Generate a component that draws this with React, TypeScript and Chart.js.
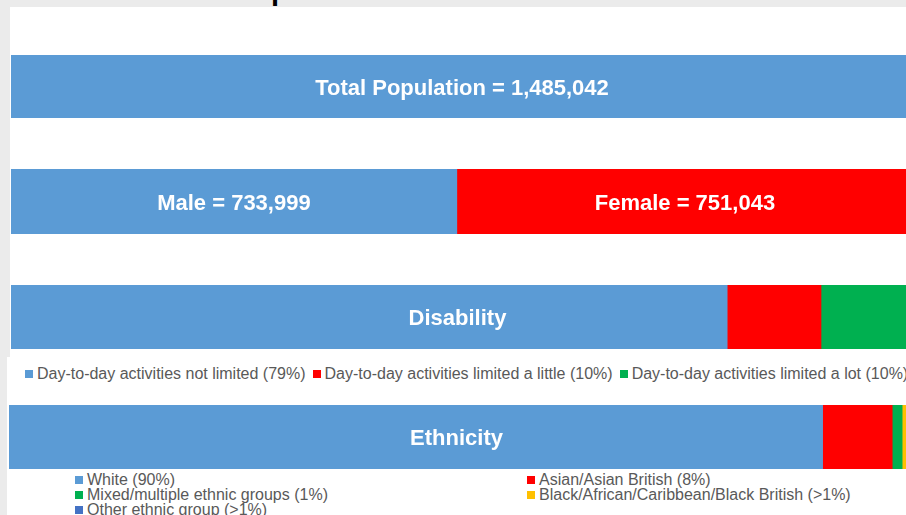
import React, { useEffect, useRef } from "react";
import { Chart, registerables } from "chart.js";

Chart.register(...registerables);

// ---------- data ----------
const pageTitle = "Overview of the Population";

const totalCategories = ["Total Population"];
const totalValues = [1485042];

const sexCategories = ["Male", "Female"];
const sexValues = [733999, 751043];

const disabilityTitle = "Disability";
const disabilityCategories = [
  "Day-to-day activities not limited (79%)",
  "Day-to-day activities limited a little (10%)",
  "Day-to-day activities limited a lot (10%)",
];
const disabilityValues = [79.4, 10.4, 10.2];

const ethnicityTitle = "Ethnicity";
const ethnicityCategories = [
  "White (90%)",
  "Asian/Asian British (8%)",
  "Mixed/multiple ethnic groups (1%)",
  "Black/African/Caribbean/Black British (>1%)",
  "Other ethnic group (>1%)",
];
const ethnicityValues = [90.0, 7.7, 1.1, 0.6, 0.6];

// ---------- styles ----------
const BLUE = "#5b9bd5";
const RED = "#ff0000";
const GREEN = "#00b050";
const YELLOW = "#ffc000";
const DARKBLUE = "#4472c4";

const FONT = 'Arial, "Liberation Sans", sans-serif';
const fmt = (n: number) => n.toLocaleString("en-GB");

const labelPlugin = {
  id: "barLabels",
  afterDatasetsDraw(chart: any, _args: any, opts: any) {
    const ctx = chart.ctx;
    ctx.save();
    ctx.fillStyle = "#ffffff";
    ctx.font = `bold 22px ${FONT}`;
    ctx.textAlign = "center";
    ctx.textBaseline = "middle";
    const dx = (opts && opts.dx) || 0;
    if (opts && opts.segments) {
      chart.data.datasets.forEach((_ds: any, i: number) => {
        const el: any = chart.getDatasetMeta(i).data[0];
        if (!el) return;
        const cx = (el.base + el.x) / 2;
        ctx.fillText(opts.segments[i], cx + dx, el.y + 2);
      });
    } else if (opts && opts.text) {
      const a = chart.chartArea;
      ctx.fillText(opts.text, (a.left + a.right) / 2 + dx, (a.top + a.bottom) / 2 + 2);
    }
    ctx.restore();
  },
};

type BarProps = {
  names: string[];
  values: number[];
  colors: string[];
  width: number;
  height: number;
  text?: string;
  segments?: string[];
  dx?: number;
};

function StackedBar({ names, values, colors, width, height, text, segments, dx }: BarProps) {
  const ref = useRef<HTMLCanvasElement | null>(null);
  useEffect(() => {
    if (!ref.current) return;
    const total = values.reduce((a, b) => a + b, 0);
    const chart = new Chart(ref.current, {
      type: "bar",
      data: {
        labels: [""],
        datasets: names.map((n, i) => ({
          label: n,
          data: [values[i]],
          backgroundColor: colors[i],
          borderWidth: 0,
          barPercentage: 1,
          categoryPercentage: 1,
        })),
      },
      options: {
        indexAxis: "y",
        responsive: false,
        animation: false,
        events: [],
        layout: { padding: 0 },
        scales: {
          x: { stacked: true, display: false, min: 0, max: total },
          y: { stacked: true, display: false },
        },
        plugins: {
          legend: { display: false },
          tooltip: { enabled: false },
          barLabels: { text, segments, dx },
        } as any,
      },
      plugins: [labelPlugin as any],
    });
    return () => chart.destroy();
  }, []);
  return <canvas ref={ref} width={width} height={height} style={{ display: "block" }} />;
}

const legendText: React.CSSProperties = {
  fontFamily: FONT,
  fontSize: 16,
  color: "#595959",
  whiteSpace: "nowrap",
  lineHeight: "16px",
};

function Marker({ color }: { color: string }) {
  return (
    <span
      style={{
        display: "inline-block",
        width: 8,
        height: 8,
        background: color,
        marginRight: 4,
        verticalAlign: "middle",
        position: "relative",
        top: -1,
      }}
    />
  );
}

export default function App() {
  const disColors = [BLUE, RED, GREEN];
  const ethColors = [BLUE, RED, GREEN, YELLOW, DARKBLUE];
  const ethPositions = [
    { x: 75, y: 472 },
    { x: 527, y: 472 },
    { x: 75, y: 487 },
    { x: 527, y: 487 },
    { x: 75, y: 502 },
  ];
  return (
    <div
      style={{
        position: "fixed",
        left: 0,
        top: 0,
        width: 906,
        height: 515,
        background: "#ebebeb",
        overflow: "hidden",
        fontFamily: FONT,
      }}
    >
      <div
        style={{
          position: "absolute",
          left: 10,
          top: -24,
          fontSize: 29,
          lineHeight: "29px",
          fontWeight: "bold",
          color: "#000",
          whiteSpace: "nowrap",
        }}
      >
        {pageTitle}
      </div>
      <div style={{ position: "absolute", left: 10, top: 7, width: 896, height: 350, background: "#fff" }} />
      <div style={{ position: "absolute", left: 7, top: 357, width: 899, height: 158, background: "#fff" }} />

      <div style={{ position: "absolute", left: 11, top: 55 }}>
        <StackedBar
          names={totalCategories}
          values={totalValues}
          colors={[BLUE]}
          width={902}
          height={63}
          text={`${totalCategories[0]} = ${fmt(totalValues[0])}`}
        />
      </div>

      <div style={{ position: "absolute", left: 11, top: 169 }}>
        <StackedBar
          names={sexCategories}
          values={sexValues}
          colors={[BLUE, RED]}
          width={902}
          height={65}
          segments={sexCategories.map((c, i) => `${c} = ${fmt(sexValues[i])}`)}
        />
      </div>

      <div style={{ position: "absolute", left: 11, top: 285 }}>
        <StackedBar
          names={disabilityCategories}
          values={disabilityValues}
          colors={disColors}
          width={902}
          height={64}
          text={disabilityTitle}
          dx={-4.5}
        />
      </div>
      <div
        style={{
          position: "absolute",
          left: 25,
          top: 366,
          display: "flex",
          gap: 7,
          ...legendText,
        }}
      >
        {disabilityCategories.map((c, i) => (
          <span key={c}>
            <Marker color={disColors[i]} />
            {c}
          </span>
        ))}
      </div>

      <div style={{ position: "absolute", left: 9, top: 405 }}>
        <StackedBar
          names={ethnicityCategories}
          values={ethnicityValues}
          colors={ethColors}
          width={904}
          height={64}
          text={ethnicityTitle}
          dx={-4.5}
        />
      </div>
      {ethnicityCategories.map((c, i) => (
        <div
          key={c}
          style={{
            position: "absolute",
            left: ethPositions[i].x,
            top: ethPositions[i].y,
            ...legendText,
          }}
        >
          <Marker color={ethColors[i]} />
          {c}
        </div>
      ))}
    </div>
  );
}
